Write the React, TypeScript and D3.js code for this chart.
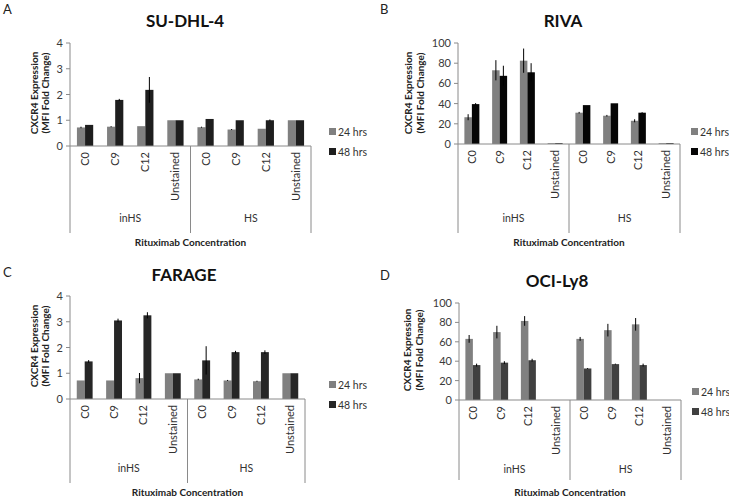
import React from "react";
import * as d3 from "d3";

const concentrations = ["C0", "C9", "C12", "Unstained"];
const groups = ["inHS", "HS"];
const seriesNames = ["24 hrs", "48 hrs"];
const yAxisTitle = ["CXCR4 Expression", "(MFI Fold Change)"];
const xAxisTitle = "Rituximab Concentration";

const ticksFold = [0, 1, 2, 3, 4];
const ticksPct = [0, 20, 40, 60, 80, 100];

// SU-DHL-4
const a24 = [0.72, 0.75, 0.77, 1.0, 0.73, 0.64, 0.67, 1.0];
const a48 = [0.82, 1.79, 2.18, 1.0, 1.05, 1.0, 1.0, 1.0];
const a24Err = [0.03, 0.02, 0, 0, 0.02, 0.02, 0, 0];
const a48Err = [0, 0.04, 0.5, 0, 0, 0, 0.03, 0];
// RIVA
const b24 = [26.5, 73, 82.5, 0.8, 31, 28, 23, 0.8];
const b48 = [39.5, 67.5, 71, 0.8, 38.5, 40.3, 31, 0.8];
const b24Err = [3, 10, 12, 0, 0.8, 0.8, 1.5, 0];
const b48Err = [1, 10, 9, 0, 0, 0, 0.5, 0];
// FARAGE
const c24 = [0.72, 0.72, 0.81, 1.0, 0.76, 0.72, 0.69, 1.0];
const c48 = [1.46, 3.05, 3.25, 1.0, 1.5, 1.82, 1.82, 1.0];
const c24Err = [0, 0, 0.2, 0, 0.03, 0.02, 0.02, 0];
const c48Err = [0.05, 0.07, 0.12, 0, 0.55, 0.05, 0.07, 0];
// OCI-Ly8
const d24 = [63, 70, 81.5, 0, 63, 72, 78, 0];
const d48 = [36, 38.5, 41, 0, 32.5, 37, 36, 0];
const d24Err = [4, 6.5, 5, 0, 2, 6.5, 6.5, 0];
const d48Err = [1.5, 1.5, 1.5, 0, 0.5, 0.5, 1.5, 0];

const panels = [
  { letter: "A", title: "SU-DHL-4", s24: a24, s48: a48, e24: a24Err, e48: a48Err, ticks: ticksFold,
    x0: 70, x1: 311, yTop: 43, yBot: 146, letterX: 3, letterY: 14, titleX: 185, titleY: 27,
    yTitleX: [38, 49], yTitleY: 93, groupY: 222, lineEnd: 233, axisTitleY: 246,
    legendX: 329, legendY: [132, 152], c48: "#1e1e1e" },
  { letter: "B", title: "RIVA", s24: b24, s48: b48, e24: b24Err, e48: b48Err, ticks: ticksPct,
    x0: 458, x1: 680, yTop: 43, yBot: 144, letterX: 380, letterY: 14, titleX: 563, titleY: 27,
    yTitleX: [412, 424], yTitleY: 93, groupY: 222, lineEnd: 233, axisTitleY: 246,
    legendX: 691, legendY: [132, 152], c48: "#050505" },
  { letter: "C", title: "FARAGE", s24: c24, s48: c48, e24: c24Err, e48: c48Err, ticks: ticksFold,
    x0: 70, x1: 305, yTop: 296, yBot: 399, letterX: 3, letterY: 277, titleX: 184, titleY: 281,
    yTitleX: [38, 49], yTitleY: 346, groupY: 472, lineEnd: 483, axisTitleY: 496,
    legendX: 329, legendY: [385, 405], c48: "#262626" },
  { letter: "D", title: "OCI-Ly8", s24: d24, s48: d48, e24: d24Err, e48: d48Err, ticks: ticksPct,
    x0: 459, x1: 681, yTop: 303, yBot: 400, letterX: 380, letterY: 280, titleX: 557, titleY: 287,
    yTitleX: [411, 423], yTitleY: 350, groupY: 473, lineEnd: 480, axisTitleY: 496,
    legendX: 692, legendY: [392, 412], c48: "#404040" },
];

const FONT = "Lato, 'Open Sans', sans-serif";
const C24 = "#808080";
const AXIS = "#8a8a8a";

function Panel({ p }: { p: (typeof panels)[number] }) {
  const cats = groups.flatMap((g) => concentrations.map((c) => `${g}|${c}`));
  const x = d3.scaleBand<string>().domain(cats).range([p.x0, p.x1]).padding(0);
  const maxV = p.ticks[p.ticks.length - 1];
  const y = d3.scaleLinear().domain([0, maxV]).range([p.yBot, p.yTop]);
  const bw = x.bandwidth() * 0.27;
  const groupX = d3.scaleBand<string>().domain(groups).range([p.x0, p.x1]);
  const series = [
    { vals: p.s24, errs: p.e24, color: C24, off: -bw },
    { vals: p.s48, errs: p.e48, color: p.c48, off: 0 },
  ];
  return (
    <g fontFamily={FONT}>
      <text x={p.letterX} y={p.letterY} fontSize={13} fill="#222">{p.letter}</text>
      <text x={p.titleX} y={p.titleY} fontSize={17} fontWeight="bold" textAnchor="middle" fill="#111">{p.title}</text>
      {yAxisTitle.map((t, i) => (
        <text key={t} transform={`translate(${p.yTitleX[i]},${p.yTitleY}) rotate(-90)`} fontSize={10}
          fontWeight="bold" textAnchor="middle" fill="#222">{t}</text>
      ))}
      {/* y axis */}
      <line x1={p.x0} x2={p.x0} y1={p.yTop} y2={p.lineEnd} stroke={AXIS} />
      {p.ticks.map((t) => (
        <g key={t}>
          <line x1={p.x0 - 4} x2={p.x0} y1={y(t)} y2={y(t)} stroke={AXIS} />
          <text x={p.x0 - 7} y={y(t) + 4} fontSize={11} textAnchor="end" fill="#3a3a3a">{t}</text>
        </g>
      ))}
      {/* bars */}
      {series.map((s, si) =>
        cats.map((c, i) => {
          const cx = (x(c) as number) + x.bandwidth() / 2;
          const v = s.vals[i];
          return v > 0 ? (
            <rect key={`${si}-${c}`} x={cx + s.off} y={y(v)} width={bw} height={y(0) - y(v)} fill={s.color} />
          ) : null;
        })
      )}
      {series.map((s, si) =>
        cats.map((c, i) => {
          const cx = (x(c) as number) + x.bandwidth() / 2 + s.off + bw / 2;
          const v = s.vals[i];
          const e = s.errs[i];
          return e > 0 ? (
            <line key={`e${si}-${c}`} x1={cx} x2={cx} y1={y(v - e)} y2={y(v + e)} stroke="#000" strokeWidth={1} />
          ) : null;
        })
      )}
      {/* category axis */}
      <line x1={p.x0} x2={p.x1} y1={p.yBot} y2={p.yBot} stroke={AXIS} />
      <line x1={(p.x0 + p.x1) / 2} x2={(p.x0 + p.x1) / 2} y1={p.yBot} y2={p.lineEnd} stroke={AXIS} />
      <line x1={p.x1} x2={p.x1} y1={p.yBot} y2={p.lineEnd} stroke={AXIS} />
      {cats.map((c) => {
        const cx = (x(c) as number) + x.bandwidth() / 2;
        return (
          <text key={`l${c}`} transform={`translate(${cx + 4},${p.yBot + 6}) rotate(-90)`} fontSize={11}
            textAnchor="end" fill="#333">{c.split("|")[1]}</text>
        );
      })}
      {groups.map((g) => (
        <text key={g} x={(groupX(g) as number) + groupX.bandwidth() / 2} y={p.groupY} fontSize={10.5}
          textAnchor="middle" fill="#333">{g}</text>
      ))}
      <text x={(p.x0 + p.x1) / 2} y={p.axisTitleY} fontSize={10} fontWeight="bold" textAnchor="middle" fill="#222">
        {xAxisTitle}
      </text>
      {/* legend */}
      {seriesNames.map((n, i) => (
        <g key={n}>
          <rect x={p.legendX} y={p.legendY[i] - 4} width={7} height={7} fill={i === 0 ? C24 : p.c48} />
          <text x={p.legendX + 9} y={p.legendY[i] + 3.5} fontSize={10.5} fill="#333">{n}</text>
        </g>
      ))}
    </g>
  );
}

export default function App() {
  return (
    <svg width={729} height={500} style={{ position: "absolute", left: 0, top: 0, background: "#fff" }}>
      <rect width={729} height={500} fill="#fff" />
      {panels.map((p) => (
        <Panel key={p.letter} p={p} />
      ))}
    </svg>
  );
}
